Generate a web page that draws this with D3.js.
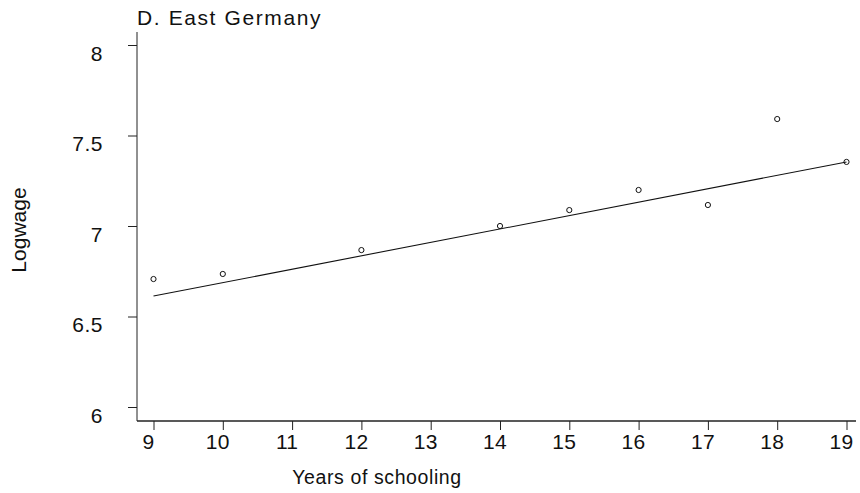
<!DOCTYPE html>
<html>
<head>
<meta charset="utf-8">
<script src="https://cdn.jsdelivr.net/npm/d3@7/dist/d3.min.js"></script>
<style>
  html, body { margin: 0; padding: 0; background: #fff; }
  svg { display: block; font-family: "Liberation Sans", Arial, Helvetica, sans-serif; }
</style>
</head>
<body>
<svg id="chart" width="860" height="493"></svg>
<script>
// Mean log wage by years of schooling
const schoolingYears = [9, 10, 12, 14, 15, 16, 17, 18, 19];
const logWages = [6.707, 6.735, 6.867, 7.0, 7.088, 7.199, 7.116, 7.591, 7.354];

// Fitted regression line end points
const fitYears = [9, 19];
const fitLogWages = [6.613, 7.354];

// Axis ticks
const xTicks = [9, 10, 11, 12, 13, 14, 15, 16, 17, 18, 19];
const yTicks = [6, 6.5, 7, 7.5, 8];
const yTickLabels = ["6", "6.5", "7", "7.5", "8"];

const svg = d3.select("#chart");

const x = d3.scaleLinear().domain([9, 19]).range([153.5, 846.5]);
const y = d3.scaleLinear().domain([6, 8]).range([407, 45]);

const axisLeftX = 137;
const axisBottomY = 421;

// Y axis
const yAxis = svg.append("g")
  .attr("transform", `translate(${axisLeftX},0)`)
  .call(d3.axisLeft(y).tickValues(yTicks)
    .tickFormat((d, i) => yTickLabels[i])
    .tickSize(9).tickPadding(25).tickSizeOuter(0));
yAxis.select(".domain").remove();
yAxis.append("line")
  .attr("x1", 0).attr("x2", 0).attr("y1", 32).attr("y2", axisBottomY)
  .attr("stroke", "#222").attr("stroke-width", 1);
yAxis.selectAll(".tick line").attr("stroke", "#222");
yAxis.selectAll(".tick text")
  .attr("fill", "#111")
  .style("font-size", "21px")
  .style("letter-spacing", "0.5px")
  .attr("dy", "15px");

// X axis
const xAxis = svg.append("g")
  .attr("transform", `translate(0,${axisBottomY})`)
  .call(d3.axisBottom(x).tickValues(xTicks)
    .tickFormat(d3.format("d"))
    .tickSize(9).tickPadding(4).tickSizeOuter(0));
xAxis.select(".domain").remove();
xAxis.append("line")
  .attr("x1", axisLeftX).attr("x2", 856).attr("y1", 0).attr("y2", 0)
  .attr("stroke", "#222").attr("stroke-width", 1.3);
xAxis.selectAll(".tick line").attr("stroke", "#222");
xAxis.selectAll(".tick text")
  .attr("fill", "#111")
  .attr("x", -5.5)
  .style("font-size", "21px")
  .style("letter-spacing", "0.3px");

// Fitted line
const line = d3.line().x(d => x(d[0])).y(d => y(d[1]));
svg.append("path")
  .datum(d3.zip(fitYears, fitLogWages))
  .attr("d", line)
  .attr("fill", "none")
  .attr("stroke", "#111")
  .attr("stroke-width", 1.1);

// Observed points
svg.append("g")
  .selectAll("circle")
  .data(d3.zip(schoolingYears, logWages))
  .join("circle")
  .attr("cx", d => x(d[0]))
  .attr("cy", d => y(d[1]))
  .attr("r", 2.6)
  .attr("fill", "none")
  .attr("stroke", "#111")
  .attr("stroke-width", 1);

// Title
svg.append("text")
  .attr("x", 137).attr("y", 25)
  .attr("fill", "#111")
  .style("font-size", "21px")
  .style("letter-spacing", "1.6px")
  .text("D. East Germany");

// Axis titles
svg.append("text")
  .attr("x", 377).attr("y", 484)
  .attr("text-anchor", "middle")
  .attr("fill", "#111")
  .style("font-size", "19.5px")
  .style("letter-spacing", "0.6px")
  .text("Years of schooling");

svg.append("text")
  .attr("transform", "translate(26,230) rotate(-90)")
  .attr("text-anchor", "middle")
  .attr("fill", "#111")
  .style("font-size", "21px")
  .text("Logwage");
</script>
</body>
</html>
